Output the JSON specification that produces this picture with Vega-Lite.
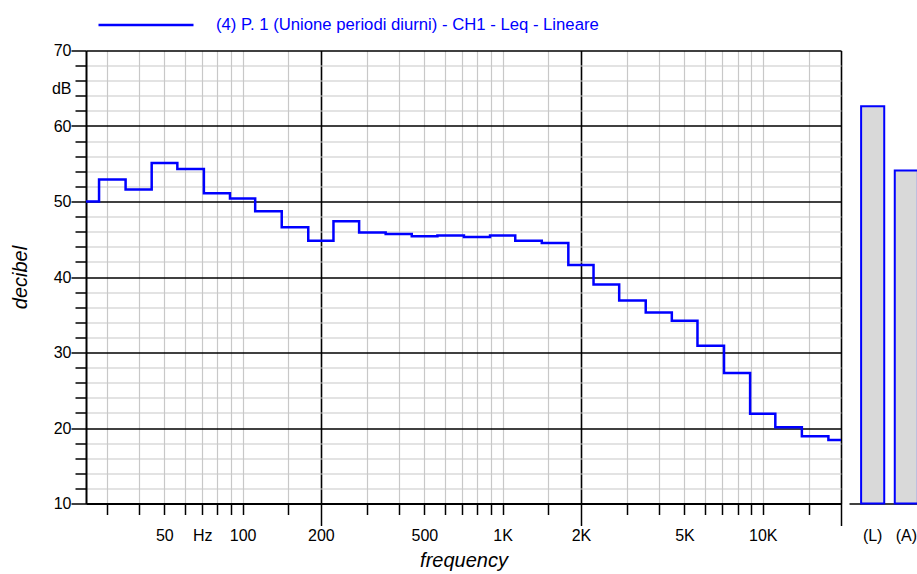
{
  "$schema": "https://vega.github.io/schema/vega-lite/v6.json",
  "padding": {"left": 10, "top": 13.5, "right": 0, "bottom": 0},
  "config": {
    "font": "Liberation Sans",
    "view": {"stroke": null},
    "axis": {"labelFont": "Liberation Sans", "titleFont": "Liberation Sans", "labelColor": "#000", "titleColor": "#000"}
  },
  "bounds": "flush",
  "spacing": 8,
  "resolve": {"legend": {"color": "independent"}},
  "hconcat": [
    {
      "width": 755,
      "height": 453,
      "data": {"values": [
        {"f": 25, "db": 50.0, "s": "(4) P. 1 (Unione periodi diurni) - CH1 - Leq - Lineare"},
        {"f": 31.5, "db": 52.9, "s": "(4) P. 1 (Unione periodi diurni) - CH1 - Leq - Lineare"},
        {"f": 40, "db": 51.6, "s": "(4) P. 1 (Unione periodi diurni) - CH1 - Leq - Lineare"},
        {"f": 50, "db": 55.1, "s": "(4) P. 1 (Unione periodi diurni) - CH1 - Leq - Lineare"},
        {"f": 63, "db": 54.3, "s": "(4) P. 1 (Unione periodi diurni) - CH1 - Leq - Lineare"},
        {"f": 80, "db": 51.1, "s": "(4) P. 1 (Unione periodi diurni) - CH1 - Leq - Lineare"},
        {"f": 100, "db": 50.4, "s": "(4) P. 1 (Unione periodi diurni) - CH1 - Leq - Lineare"},
        {"f": 125, "db": 48.7, "s": "(4) P. 1 (Unione periodi diurni) - CH1 - Leq - Lineare"},
        {"f": 160, "db": 46.6, "s": "(4) P. 1 (Unione periodi diurni) - CH1 - Leq - Lineare"},
        {"f": 200, "db": 44.8, "s": "(4) P. 1 (Unione periodi diurni) - CH1 - Leq - Lineare"},
        {"f": 250, "db": 47.4, "s": "(4) P. 1 (Unione periodi diurni) - CH1 - Leq - Lineare"},
        {"f": 315, "db": 45.9, "s": "(4) P. 1 (Unione periodi diurni) - CH1 - Leq - Lineare"},
        {"f": 400, "db": 45.7, "s": "(4) P. 1 (Unione periodi diurni) - CH1 - Leq - Lineare"},
        {"f": 500, "db": 45.4, "s": "(4) P. 1 (Unione periodi diurni) - CH1 - Leq - Lineare"},
        {"f": 630, "db": 45.5, "s": "(4) P. 1 (Unione periodi diurni) - CH1 - Leq - Lineare"},
        {"f": 800, "db": 45.3, "s": "(4) P. 1 (Unione periodi diurni) - CH1 - Leq - Lineare"},
        {"f": 1000, "db": 45.5, "s": "(4) P. 1 (Unione periodi diurni) - CH1 - Leq - Lineare"},
        {"f": 1250, "db": 44.8, "s": "(4) P. 1 (Unione periodi diurni) - CH1 - Leq - Lineare"},
        {"f": 1600, "db": 44.5, "s": "(4) P. 1 (Unione periodi diurni) - CH1 - Leq - Lineare"},
        {"f": 2000, "db": 41.6, "s": "(4) P. 1 (Unione periodi diurni) - CH1 - Leq - Lineare"},
        {"f": 2500, "db": 39.0, "s": "(4) P. 1 (Unione periodi diurni) - CH1 - Leq - Lineare"},
        {"f": 3150, "db": 36.9, "s": "(4) P. 1 (Unione periodi diurni) - CH1 - Leq - Lineare"},
        {"f": 4000, "db": 35.3, "s": "(4) P. 1 (Unione periodi diurni) - CH1 - Leq - Lineare"},
        {"f": 5000, "db": 34.2, "s": "(4) P. 1 (Unione periodi diurni) - CH1 - Leq - Lineare"},
        {"f": 6300, "db": 30.9, "s": "(4) P. 1 (Unione periodi diurni) - CH1 - Leq - Lineare"},
        {"f": 8000, "db": 27.3, "s": "(4) P. 1 (Unione periodi diurni) - CH1 - Leq - Lineare"},
        {"f": 10000, "db": 21.9, "s": "(4) P. 1 (Unione periodi diurni) - CH1 - Leq - Lineare"},
        {"f": 12500, "db": 20.1, "s": "(4) P. 1 (Unione periodi diurni) - CH1 - Leq - Lineare"},
        {"f": 16000, "db": 18.9, "s": "(4) P. 1 (Unione periodi diurni) - CH1 - Leq - Lineare"},
        {"f": 20000, "db": 18.4, "s": "(4) P. 1 (Unione periodi diurni) - CH1 - Leq - Lineare"}
      ]},
      "mark": {"type": "line", "interpolate": "step", "strokeWidth": 2.5},
      "encoding": {
        "x": {
          "field": "f", "type": "quantitative",
          "scale": {"type": "log", "domain": [25, 20000], "nice": false},
          "axis": {
            "values": [30,40,50,60,70,80,90,100,150,200,300,400,500,600,700,800,900,1000,1500,2000,3000,4000,5000,6000,7000,8000,9000,10000,15000,20000],
            "labelExpr": "datum.value==50?'50':datum.value==70?'Hz':datum.value==100?'100':datum.value==200?'200':datum.value==500?'500':datum.value==1000?'1K':datum.value==2000?'2K':datum.value==5000?'5K':datum.value==10000?'10K':''",
            "labelOverlap": false, "labelFlush": false, "labelFontSize": 16, "labelBound": false,
            "grid": true,
            "gridColor": {"condition": {"test": "datum.value==200||datum.value==2000||datum.value==20000", "value": "#000000"}, "value": "#c8c8c8"},
            "gridWidth": {"condition": {"test": "datum.value==200||datum.value==2000||datum.value==20000", "value": 1.6}, "value": 1.2},
            "tickSize": {"condition": {"test": "datum.value==200||datum.value==2000||datum.value==20000", "value": 22}, "value": 11},
            "labelPadding": {"condition": {"test": "datum.value==200||datum.value==2000||datum.value==20000", "value": 1.5}, "value": 12.5},
            "tickColor": "#000", "tickWidth": 1.5,
            "domainColor": "#000", "domainWidth": 2,
            "title": "frequency", "titleFontSize": 20, "titleFontStyle": "italic", "titleFontWeight": "normal", "titlePadding": 7
          }
        },
        "y": {
          "field": "db", "type": "quantitative",
          "scale": {"domain": [10, 70], "nice": false, "zero": false},
          "axis": {
            "values": [10,12,14,16,18,20,22,24,26,28,30,32,34,36,38,40,42,44,46,48,50,52,54,56,58,60,62,64,65,66,68,70],
            "labelExpr": "datum.value%10==0?datum.value:datum.value==65?'dB':''",
            "labelOverlap": false, "labelFlush": false, "labelFontSize": 16, "labelBound": false,
            "grid": true,
            "gridColor": {"condition": {"test": "datum.value%10==0", "value": "#000000"}, "value": "#c8c8c8"},
            "gridWidth": {"condition": {"test": "datum.value%10==0", "value": 1.6}, "value": 1.2},
            "gridOpacity": {"condition": {"test": "datum.value==65", "value": 0}, "value": 1},
            "tickOpacity": {"condition": {"test": "datum.value==65", "value": 0}, "value": 1},
            "tickSize": {"condition": {"test": "datum.value%10==0", "value": 15}, "value": 11},
            "labelPadding": {"condition": {"test": "datum.value==65", "value": 4}, "value": 0},
            "tickColor": "#000", "tickWidth": 1.5,
            "domainColor": "#000", "domainWidth": 2,
            "title": "decibel", "titleFontSize": 20, "titleFontStyle": "italic", "titleFontWeight": "normal", "titlePadding": 21
          }
        },
        "color": {
          "field": "s", "type": "nominal",
          "scale": {"range": ["#0000ff"]},
          "legend": {
            "orient": "none", "legendX": 49, "legendY": -36.5, "title": null,
            "symbolType": "M-5,0H5", "symbolSize": 361, "symbolStrokeWidth": 2.7,
            "labelFontSize": 16.7, "labelColor": "#0000ff", "labelOffset": 59, "labelLimit": 700, "padding": 0
          }
        }
      }
    },
    {
      "width": 81,
      "height": 453,
      "data": {"values": [
        {"k": "(L)", "v": 62.6},
        {"k": "(A)", "v": 54.1}
      ]},
      "mark": {"type": "bar", "fill": "#d9d9d9", "stroke": "#0000ff", "strokeWidth": 2},
      "encoding": {
        "x": {
          "field": "k", "type": "nominal", "sort": null,
          "scale": {"paddingInner": 0.313, "paddingOuter": 0.36},
          "axis": {"title": null, "labelAngle": 0, "ticks": false, "domainColor": "#000", "domainWidth": 1.5, "labelFontSize": 16, "labelPadding": 23.5}
        },
        "y": {"field": "v", "type": "quantitative", "scale": {"domain": [10, 70], "nice": false, "zero": false}, "axis": null},
        "y2": {"datum": 10}
      }
    }
  ]
}
